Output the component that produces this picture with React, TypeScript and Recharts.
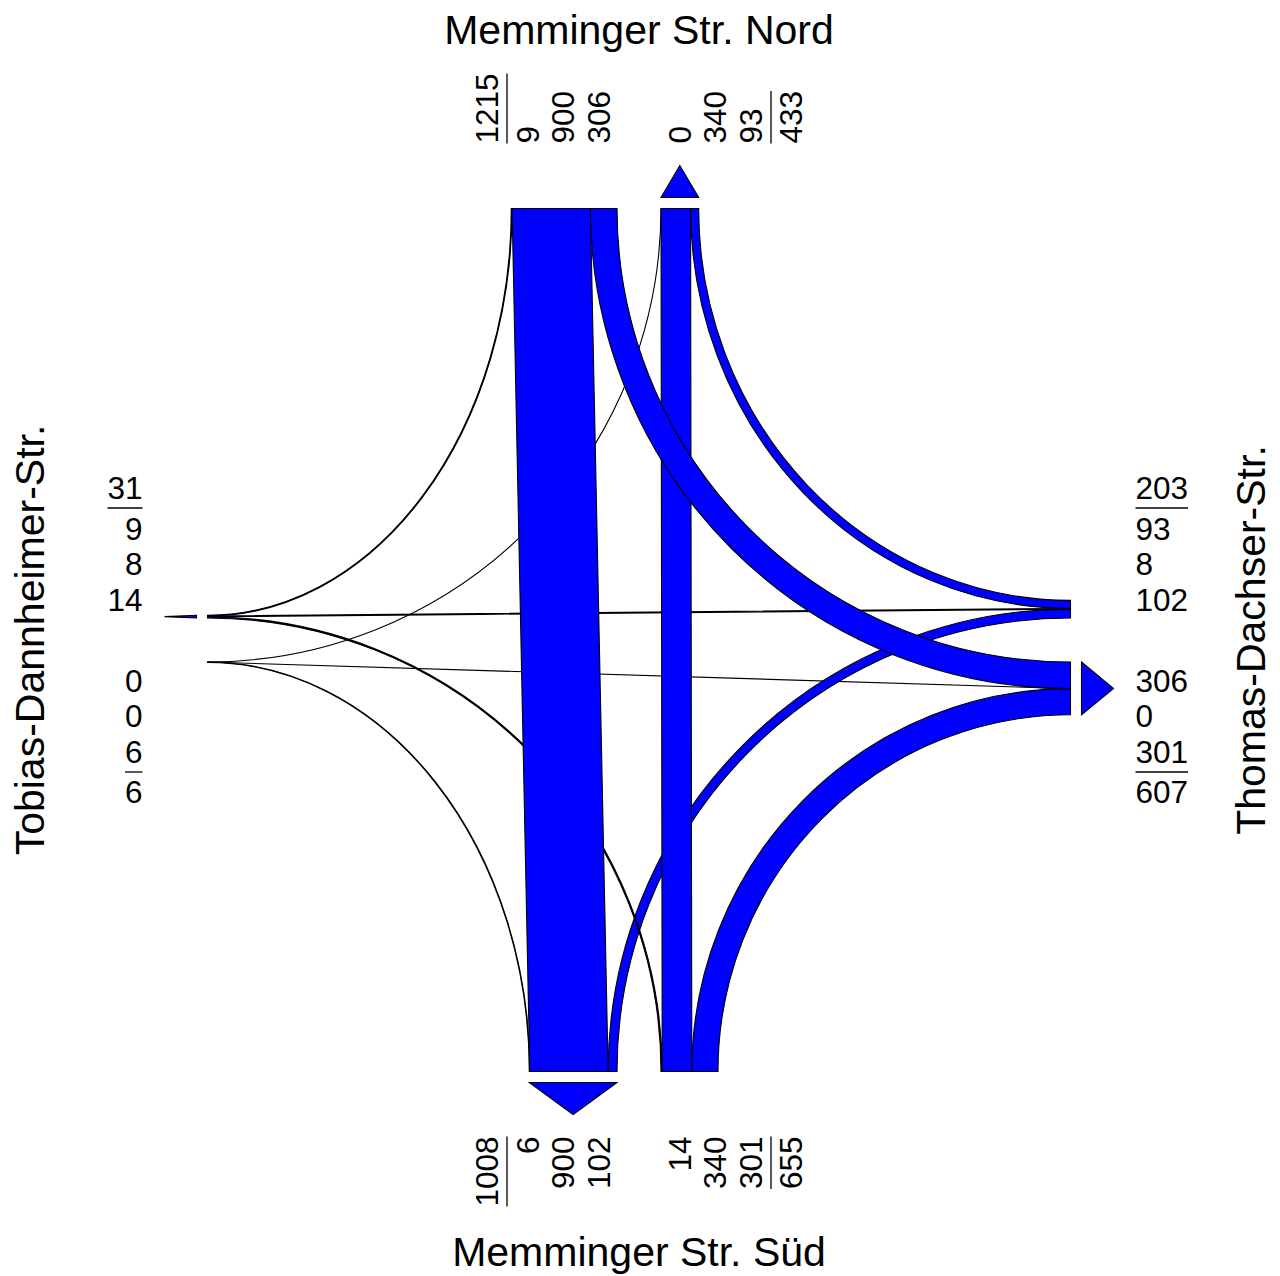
import React from 'react';
import { ScatterChart, Scatter, XAxis, YAxis } from 'recharts';

// Verkehrsmengen je Zufahrt, Reihenfolge wie die Fahrstreifen im Bild
const vonNord = [9, 900, 306]; // nach West, Süd, Ost
const vonSued = [14, 340, 301]; // nach West, Nord, Ost
const vonWest = [0, 0, 6]; // nach Nord, Ost, Süd
const vonOst = [93, 8, 102]; // nach Nord, West, Süd

const armTitles = {
  N: 'Memminger Str. Nord',
  S: 'Memminger Str. Süd',
  W: 'Tobias-Dannheimer-Str.',
  E: 'Thomas-Dachser-Str.',
};

const flows = [
  { from: 'W', to: 'N', v: vonWest[0] },
  { from: 'W', to: 'E', v: vonWest[1] },
  { from: 'W', to: 'S', v: vonWest[2] },
  { from: 'E', to: 'N', v: vonOst[0] },
  { from: 'E', to: 'W', v: vonOst[1] },
  { from: 'E', to: 'S', v: vonOst[2] },
  { from: 'S', to: 'W', v: vonSued[0] },
  { from: 'S', to: 'N', v: vonSued[1] },
  { from: 'S', to: 'E', v: vonSued[2] },
  { from: 'N', to: 'W', v: vonNord[0] },
  { from: 'N', to: 'S', v: vonNord[1] },
  { from: 'N', to: 'E', v: vonNord[2] },
];

// layout
const W = 1280;
const H = 1276;
const CX = 639;
const CY = 640;
const R = 431.5;
const GAP = 22;
const K = 0.087;
const ARROW_GAP = 11;
const ARROW_LEN = 32;
const LABEL_GAP = 65;
const L0 = 40.5;
const LS = 35.5;
const LSEP = 132;
const LT = 152;
const FS = 31.5;
const TFS = 41;
const FONT = '"Liberation Sans", Arial, Helvetica, sans-serif';
const BLUE = '#0000ff';

const laneOrder: any = { N: ['W', 'S', 'E'], S: ['W', 'N', 'E'], W: ['N', 'E', 'S'], E: ['N', 'W', 'S'] };
const inSide: any = { N: -1, S: 1, W: 1, E: -1 };
const opposite: any = { N: 'S', S: 'N', W: 'E', E: 'W' };

const flowValue = (from: string, to: string) => {
  const f = flows.find((d) => d.from === from && d.to === to);
  return f ? f.v : 0;
};

const armPt = (arm: string, along: number, out: number) => {
  if (arm === 'N') return { x: along, y: CY - R - out };
  if (arm === 'S') return { x: along, y: CY + R + out };
  if (arm === 'W') return { x: CX - R - out, y: along };
  return { x: CX + R + out, y: along };
};
const armCenter = (arm: string) => (arm === 'N' || arm === 'S' ? CX : CY);

const groupSegments = (values: number[], side: number, center: number) => {
  const total = values.reduce((a, b) => a + b, 0);
  let pos = side < 0 ? center - GAP - total * K : center + GAP;
  return values.map((v) => {
    const seg = [pos, pos + v * K];
    pos += v * K;
    return seg;
  });
};

// lane segments on every arm
const segs: any = {};
['N', 'S', 'W', 'E'].forEach((a) => {
  const inVals = laneOrder[a].map((d: string) => flowValue(a, d));
  const outVals = laneOrder[a].map((o: string) => flowValue(o, a));
  const inSeg = groupSegments(inVals, inSide[a], armCenter(a));
  const outSeg = groupSegments(outVals, -inSide[a], armCenter(a));
  segs[a] = { inVals, outVals, in: {}, out: {}, outSeg };
  laneOrder[a].forEach((o: string, i: number) => {
    segs[a].in[o] = inSeg[i];
    segs[a].out[o] = outSeg[i];
  });
});

const dist = (p: any, q: any) => Math.hypot(p.x - q.x, p.y - q.y);

const bands = flows.map((f) => {
  const [a, b] = segs[f.from].in[f.to];
  const [c, d] = segs[f.to].out[f.from];
  if (opposite[f.from] === f.to) {
    return { curved: false, pts: [armPt(f.from, a, 0), armPt(f.from, b, 0), armPt(f.to, d, 0), armPt(f.to, c, 0)] };
  }
  const vert = f.from === 'W' || f.from === 'E' ? f.from : f.to;
  const horiz = f.from === 'N' || f.from === 'S' ? f.from : f.to;
  const corner = { x: vert === 'W' ? CX - R : CX + R, y: horiz === 'N' ? CY - R : CY + R };
  let s1 = armPt(f.from, a, 0);
  let s2 = armPt(f.from, b, 0);
  let d1 = armPt(f.to, c, 0);
  let d2 = armPt(f.to, d, 0);
  if (dist(s2, corner) < dist(s1, corner)) [s1, s2] = [s2, s1];
  if (dist(d2, corner) < dist(d1, corner)) [d1, d2] = [d2, d1];
  return { curved: true, pts: [s1, d1, d2, s2, corner] };
});

const arrows = ['N', 'S', 'W', 'E'].map((a) => {
  const os = segs[a].outSeg;
  const lo = os[0][0];
  const hi = os[os.length - 1][1];
  return [armPt(a, lo, ARROW_GAP), armPt(a, hi, ARROW_GAP), armPt(a, (lo + hi) / 2, ARROW_GAP + ARROW_LEN)];
});

const labelStyle: any = {
  N: { rot: -90, anchor: 'start' },
  S: { rot: -90, anchor: 'end' },
  W: { rot: 0, anchor: 'end' },
  E: { rot: 0, anchor: 'start' },
};

const labels: any[] = [];
const seps: any[] = [];
['N', 'S', 'W', 'E'].forEach((a) => {
  const c = armCenter(a);
  const groups = [
    { vals: segs[a].inVals, side: inSide[a] },
    { vals: segs[a].outVals, side: -inSide[a] },
  ];
  groups.forEach((g) => {
    g.vals.forEach((v: number, i: number) => {
      const along = g.side < 0 ? c - (L0 + (2 - i) * LS) : c + L0 + i * LS;
      labels.push({ ...armPt(a, along, LABEL_GAP), text: String(v), size: FS, ...labelStyle[a] });
    });
    const total = g.vals.reduce((s: number, v: number) => s + v, 0);
    labels.push({ ...armPt(a, c + g.side * LT, LABEL_GAP), text: String(total), size: FS, ...labelStyle[a] });
    const w = String(total).length * 0.556 * FS;
    seps.push([armPt(a, c + g.side * LSEP, LABEL_GAP), armPt(a, c + g.side * LSEP, LABEL_GAP + w)]);
  });
});

const titles = [
  { x: CX, y: 30, text: armTitles.N, rot: 0 },
  { x: CX, y: 1252, text: armTitles.S, rot: 0 },
  { x: 30, y: CY, text: armTitles.W, rot: -90 },
  { x: 1251, y: CY, text: armTitles.E, rot: -90 },
].map((t) => ({ ...t, size: TFS, anchor: 'middle' }));

const noDot = () => <g />;

const bandPath = (pts: any[], curved: boolean) => {
  if (!curved) return 'M' + pts.map((p) => `${p.x},${p.y}`).join('L') + 'Z';
  const [sn, dn, df, sf, c] = pts;
  const cross = (p: any, q: any) => (p.x - c.x) * (q.y - c.y) - (p.y - c.y) * (q.x - c.x);
  const sw1 = cross(sn, dn) > 0 ? 1 : 0;
  const sw2 = cross(df, sf) > 0 ? 1 : 0;
  return (
    `M${sn.x},${sn.y} A${Math.abs(sn.x - dn.x)},${Math.abs(sn.y - dn.y)} 0 0 ${sw1} ${dn.x},${dn.y} ` +
    `L${df.x},${df.y} A${Math.abs(df.x - sf.x)},${Math.abs(df.y - sf.y)} 0 0 ${sw2} ${sf.x},${sf.y} Z`
  );
};

const textShape = (p: any) => {
  const d = p.payload;
  return (
    <text
      x={p.cx}
      y={p.cy}
      transform={d.rot ? `rotate(${d.rot} ${p.cx} ${p.cy})` : undefined}
      textAnchor={d.anchor}
      dominantBaseline="central"
      fontSize={d.size}
      fontFamily={FONT}
      fill="#000"
    >
      {d.text}
    </text>
  );
};

const App = () => {
  return (
    <div style={{ position: 'absolute', left: 0, top: 0, background: '#fff' }}>
      <ScatterChart width={W} height={H} margin={{ top: 0, right: 0, bottom: 0, left: 0 }}>
        <XAxis type="number" dataKey="x" domain={[0, W]} allowDataOverflow hide />
        <YAxis type="number" dataKey="y" domain={[0, H]} allowDataOverflow reversed hide />
        {bands.map((b, i) => (
          <Scatter
            key={`band${i}`}
            data={b.pts}
            shape={noDot}
            line={(p: any) => <path d={bandPath(p.points, b.curved)} fill={BLUE} stroke="#000" strokeWidth={1.1} />}
            isAnimationActive={false}
          />
        ))}
        {arrows.map((pts, i) => (
          <Scatter
            key={`arrow${i}`}
            data={pts}
            shape={noDot}
            line={(p: any) => <path d={bandPath(p.points, false)} fill={BLUE} stroke="#000" strokeWidth={1.1} />}
            isAnimationActive={false}
          />
        ))}
        {seps.map((pts, i) => (
          <Scatter
            key={`sep${i}`}
            data={pts}
            shape={noDot}
            line={{ stroke: '#000', strokeWidth: 1.3, fill: 'none' }}
            isAnimationActive={false}
          />
        ))}
        <Scatter data={labels} shape={textShape} isAnimationActive={false} />
        <Scatter data={titles} shape={textShape} isAnimationActive={false} />
      </ScatterChart>
    </div>
  );
};

export default App;
